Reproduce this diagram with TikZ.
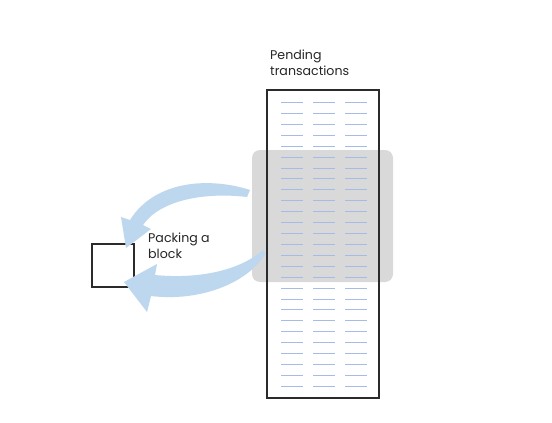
\documentclass[tikz,border=0pt]{standalone}
\usepackage{fontspec}
\setmainfont{Poppins}
\definecolor{arrowc}{HTML}{BDD7EE}
\definecolor{graybg}{HTML}{D9D9D9}
\definecolor{linec}{HTML}{A6BCE8}
\definecolor{framec}{HTML}{2B2B2B}
\begin{document}
\begin{tikzpicture}[x=1pt,y=-1pt,
  lbl/.style={font=\fontsize{12.6}{16}\selectfont, align=left, inner sep=0pt, anchor=north west, text=black!85},
  txline/.style={draw=linec, line width=1.5pt},
  bigarrow/.style={fill=arrowc, draw=none},
  frame/.style={draw=framec, line width=1.2pt, inner sep=0pt, fill=none}]
\fill[white] (0,0) rectangle (552,423);
\useasboundingbox (0,0) rectangle (552,423);
% selection highlight
\node[fill=graybg, draw=none, rounded corners=8pt, minimum width=141pt, minimum height=132pt, inner sep=0pt] (sel) at (322.5,216) {};
% transaction rows
\foreach \i in {0,...,26} {
  \pgfmathsetmacro{\ry}{round(102+\i*10.92)+0.5}
  \foreach \xa in {281,313,345} {
    \draw[txline] (\xa,\ry) -- ++(22,0);
  }
}
% pending column
\node[frame, minimum width=112pt, minimum height=308pt] (col) at (323,244) {};
% block
\node[frame, minimum width=42pt, minimum height=43pt] (blk) at (113,265.5) {};
% labels
\node[lbl] (pend) at (270,49.5) {Pending\\transactions};
\node[lbl] (pack) at (148,232.5) {Packing a\\block};
% upper arrow
\coordinate (t1) at (250,190);
\coordinate (h1) at (126,248);
\fill[bigarrow] (t1) .. controls (210,177) and (155,180) .. (130,220)
  -- (121,217) -- (h1) -- (151,229) -- (143,225)
  .. controls (160,200) and (205,192) .. (247,197) -- cycle;
% lower arrow
\coordinate (t2) at (263,250);
\coordinate (h2) at (124,282);
\fill[bigarrow] (t2) .. controls (238,272) and (195,279) .. (155,275)
  -- (157,264) -- (h2) -- (147,312) -- (151,296)
  .. controls (200,302) and (248,283) .. (265,254) -- cycle;
\end{tikzpicture}
\end{document}
